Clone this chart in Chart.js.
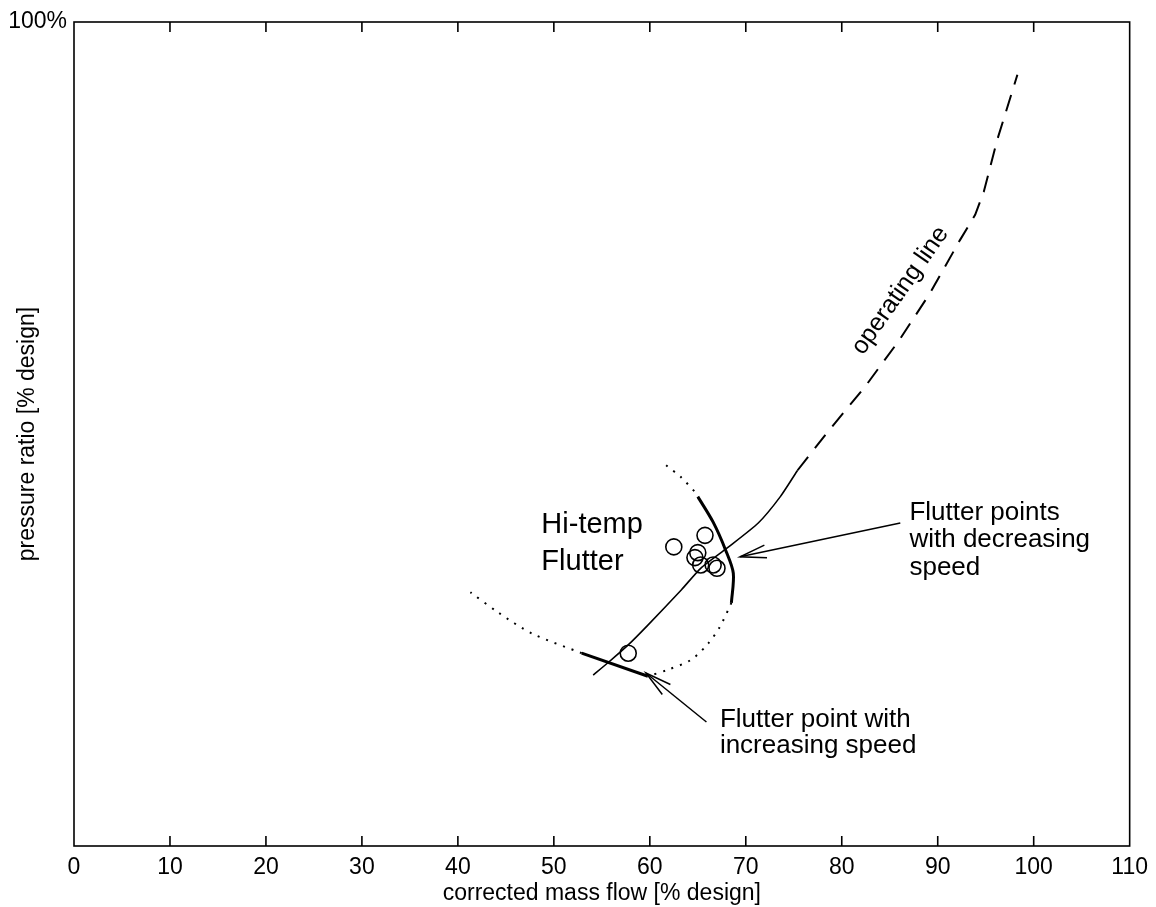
<!DOCTYPE html>
<html><head><meta charset="utf-8">
<script src="https://cdn.jsdelivr.net/npm/chart.js@4.4.1/dist/chart.umd.min.js"></script>
<style>html,body{margin:0;padding:0;background:#fff}</style>
</head><body>
<canvas id="c" width="1156" height="907"></canvas>
<script>
// ---- data ----
const xTickValues = [0,10,20,30,40,50,60,70,80,90,100,110];
const yTickValues = [100];
const yTickLabels = ['100%'];

// operating line, solid part
const opSolidX = [54.1, 55.7, 57.75, 59.8, 63.3, 65.3, 68.1, 71.3, 73.6, 75.4];
const opSolidY = [20.75, 22.3, 24.4, 26.8, 31.1, 33.7, 36.2, 39.2, 42.4, 45.6];
// operating line, dashed part
const opDashX = [75.4, 78.5, 82.4, 86.0, 89.2, 92.3, 93.9, 94.8, 96.2, 98.3];
const opDashY = [45.6, 50.2, 55.7, 61.4, 67.1, 73.5, 76.6, 79.4, 85.7, 93.6];

// flutter boundary pieces
const bndUpperDotX = [61.7, 63.3, 65.0];
const bndUpperDotY = [46.2, 44.7, 42.6];
const bndRightX = [65.0, 66.6, 67.9, 68.7, 68.5];
const bndRightY = [42.4, 39.3, 35.9, 33.1, 29.5];
const bndLowerDotX = [68.5, 67.3, 66.1, 64.3, 61.9, 59.8];
const bndLowerDotY = [29.5, 26.6, 24.6, 22.6, 21.4, 20.6];
const bndLowerX = [59.8, 52.9];
const bndLowerY = [20.6, 23.4];
const bndLeftDotX = [52.9, 47.7, 44.25, 41.3];
const bndLeftDotY = [23.4, 25.8, 28.3, 30.8];

// measured flutter points
const flutterX = [62.5, 65.75, 65.0, 64.7, 65.3, 66.6, 67.0, 57.75];
const flutterY = [36.3, 37.7, 35.6, 35.0, 34.1, 34.1, 33.7, 23.4];

// annotation arrows [tail, tip]
const arrowDecX = [86.1, 69.4];
const arrowDecY = [39.2, 35.1];
const arrowIncX = [65.9, 59.6];
const arrowIncY = [15.05, 21.0];

const FONT = '"Liberation Sans", Arial, Helvetica, sans-serif';
const pts = (xs, ys) => xs.map((v, i) => ({x: v, y: ys[i]}));

function lineDs(xs, ys, opt) {
  return Object.assign({
    data: pts(xs, ys), showLine: true, pointRadius: 0, pointHoverRadius: 0,
    borderColor: '#000', borderWidth: 1.6, backgroundColor: 'transparent',
    fill: false, tension: 0
  }, opt || {});
}

const annotations = {
  id: 'annotations',
  afterDraw(chart) {
    const {ctx, chartArea: ca, scales: {x, y}} = chart;
    const X = v => x.getPixelForValue(v), Y = v => y.getPixelForValue(v);
    ctx.save();
    // frame
    ctx.strokeStyle = '#000';
    ctx.lineWidth = 1.6;
    ctx.strokeRect(ca.left, ca.top, ca.right - ca.left, ca.bottom - ca.top);
    // inward ticks on bottom and top
    x.ticks.forEach(t => {
      const px = X(t.value);
      if (px <= ca.left + 1 || px >= ca.right - 1) return;
      ctx.beginPath();
      ctx.moveTo(px, ca.bottom); ctx.lineTo(px, ca.bottom - 10);
      ctx.moveTo(px, ca.top); ctx.lineTo(px, ca.top + 10);
      ctx.stroke();
    });
    // arrowheads
    function head(xs, ys) {
      const tx = X(xs[1]), ty = Y(ys[1]);
      const bx = X(xs[0]), by = Y(ys[0]);
      const a = Math.atan2(by - ty, bx - tx);
      const L = 27, h = 0.24;
      ctx.beginPath();
      ctx.moveTo(tx + L * Math.cos(a - h), ty + L * Math.sin(a - h));
      ctx.lineTo(tx, ty);
      ctx.lineTo(tx + L * Math.cos(a + h), ty + L * Math.sin(a + h));
      ctx.lineWidth = 1.5;
      ctx.stroke();
    }
    head(arrowDecX, arrowDecY);
    head(arrowIncX, arrowIncY);
    // texts
    ctx.fillStyle = '#000';
    ctx.textBaseline = 'alphabetic';
    ctx.textAlign = 'left';
    ctx.font = '29px ' + FONT;
    ctx.fillText('Hi-temp', X(48.7), Y(38.0));
    ctx.fillText('Flutter', X(48.7), Y(33.5));
    ctx.font = '26px ' + FONT;
    ctx.fillText('Flutter points', X(87.05), Y(39.6));
    ctx.fillText('with decreasing', X(87.05), Y(36.3));
    ctx.fillText('speed', X(87.05), Y(32.9));
    ctx.fillText('Flutter point with', X(67.3), Y(14.4));
    ctx.fillText('increasing speed', X(67.3), Y(11.3));
    // rotated label
    ctx.save();
    ctx.translate(X(86.1), Y(67.4));
    ctx.rotate(-55 * Math.PI / 180);
    ctx.textAlign = 'center';
    ctx.textBaseline = 'middle';
    ctx.font = '25px ' + FONT;
    ctx.fillText('operating line', 0, 0);
    ctx.restore();
    ctx.restore();
  }
};

new Chart(document.getElementById('c'), {
  type: 'scatter',
  data: {
    datasets: [
      lineDs(opSolidX, opSolidY, {borderWidth: 1.6, tension: 0.2}),
      lineDs(opDashX, opDashY, {borderWidth: 2, borderDash: [17, 11]}),
      lineDs(bndUpperDotX, bndUpperDotY, {borderWidth: 2, borderDash: [2, 7], tension: 0.3}),
      lineDs(bndRightX, bndRightY, {borderWidth: 3, tension: 0.3}),
      lineDs(bndLowerDotX, bndLowerDotY, {borderWidth: 2, borderDash: [2, 7], tension: 0.3}),
      lineDs(bndLowerX, bndLowerY, {borderWidth: 3}),
      lineDs(bndLeftDotX, bndLeftDotY, {borderWidth: 2, borderDash: [2, 7], tension: 0.3}),
      {data: pts(flutterX, flutterY), showLine: false, pointStyle: 'circle', pointRadius: 8,
       pointBorderWidth: 1.6, borderColor: '#000', pointBorderColor: '#000', backgroundColor: 'transparent', pointBackgroundColor: 'transparent'},
      lineDs(arrowDecX, arrowDecY, {borderWidth: 1.5}),
      lineDs(arrowIncX, arrowIncY, {borderWidth: 1.5})
    ]
  },
  options: {
    responsive: false, animation: false, devicePixelRatio: 1,
    layout: {padding: {top: 22, right: 23, left: 0, bottom: 0}},
    plugins: {legend: {display: false}, tooltip: {enabled: false}},
    scales: {
      x: {
        type: 'linear', min: 0, max: 110,
        afterBuildTicks: s => { s.ticks = xTickValues.map(v => ({value: v})); },
        ticks: {color: '#000', font: {family: FONT, size: 23}, padding: 8, maxRotation: 0, autoSkip: false},
        grid: {display: false, drawTicks: false},
        border: {display: false},
        title: {display: true, text: 'corrected mass flow [% design]', color: '#000',
                font: {family: FONT, size: 23}, padding: {top: 0, bottom: 0}},
        afterFit: s => { s.height = 61; }
      },
      y: {
        type: 'linear', min: 0, max: 100,
        afterBuildTicks: s => { s.ticks = yTickValues.map(v => ({value: v})); },
        ticks: {color: '#000', font: {family: FONT, size: 23}, padding: 7,
                callback: v => { const i = yTickValues.indexOf(v); return i >= 0 ? yTickLabels[i] : ''; }},
        grid: {display: false, drawTicks: false},
        border: {display: false},
        title: {display: true, text: 'pressure ratio [% design]', color: '#000',
                font: {family: FONT, size: 23}, padding: {top: 14, bottom: 0}},
        afterFit: s => { s.width = 74; }
      }
    }
  },
  plugins: [annotations]
});
</script>
</body></html>
